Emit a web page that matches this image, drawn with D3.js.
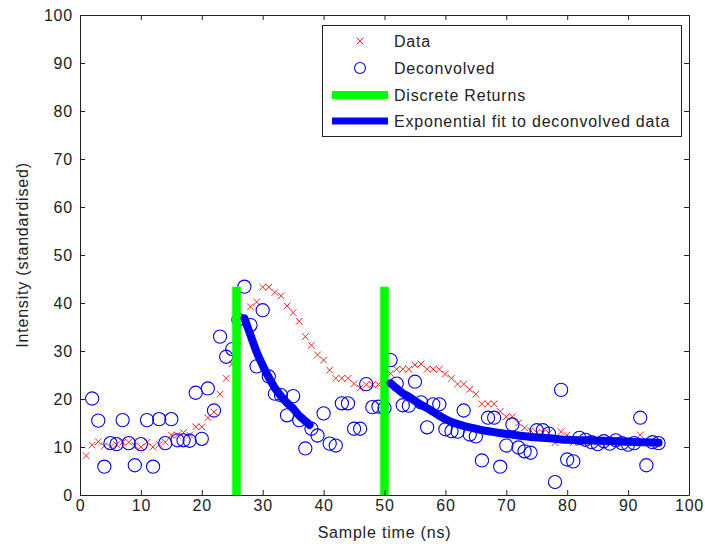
<!DOCTYPE html>
<html>
<head>
<meta charset="utf-8">
<script src="https://cdn.jsdelivr.net/npm/d3@7"></script>
<style>
  body { margin: 0; background: #fff; }
  text { font-family: Arial, "Liberation Sans", sans-serif; fill: #222; }
</style>
</head>
<body>
<div id="chart"></div>
<script>
// raw signal, [time ns, intensity]
const dataPts = [[1,8.2],[2,10.4],[3,11.1],[4,10.2],[5,10],[6,10.5],[7,11],[8,11],[9,10.3],[10,10],
  [11,11],[12,10],[13,10.5],[14,11],[15,12.5],[16,12.5],[17,13],[18,12.5],[19,14.2],[20,14.2],
  [21,16.1],[22,17.3],[23,21],[24,24.3],[25,27.3],[26,32],[27,36],[28,39.2],[29,40.2],[30,43.3],
  [31,43.3],[32,42.2],[33,41.5],[34,39.4],[35,38],[36,36.2],[37,33],[38,31.2],[39,29.2],[40,28.1],
  [41,26],[42,24.3],[43,24.3],[44,24.3],[45,23.2],[46,22.3],[47,23],[48,23],[49,23],[50,24],
  [51,25.3],[52,26.2],[53,26.2],[54,26.2],[55,27.1],[56,27.3],[57,26.2],[58,26.2],[59,26.2],[60,25.2],
  [61,24.3],[62,23.1],[63,23.1],[64,22],[65,21],[66,19],[67,19],[68,19],[69,17.4],[70,16.3],
  [71,16.3],[72,15],[73,14],[74,13.4],[75,13],[76,13],[77,12.9],[78,10.9],[79,13.2],[80,12.5],
  [81,10.9],[82,11],[83,11],[84,11.5],[85,11],[86,11],[87,11],[88,11],[89,11],[90,11],
  [91,11],[92,12.5],[93,11],[94,11],[95,11]];

// deconvolved signal
const deconvPts = [[2,20.1],[3,15.5],[4,5.9],[5,10.8],[6,10.6],[7,15.6],[8,10.8],[9,6.2],[10,10.6],
  [11,15.6],[12,5.9],[13,15.8],[14,10.8],[15,15.8],[16,11.4],[17,11.4],[18,11.3],[19,21.3],[20,11.7],
  [21,22.2],[22,17.6],[23,33],[24,28.8],[25,30.4],[26,36.5],[27,43.4],[28,35.4],[29,26.8],[30,38.5],
  [31,24.7],[32,21.1],[33,20.8],[34,16.6],[35,20.6],[36,15.6],[37,9.7],[38,13.8],[39,12.4],[40,17],
  [41,10.7],[42,10.3],[43,19.1],[44,19.1],[45,13.8],[46,13.8],[47,23.1],[48,18.3],[49,18.4],[50,18.1],
  [51,28.1],[52,23.2],[53,18.7],[54,18.6],[55,23.6],[56,19.3],[57,14.1],[58,18.9],[59,18.9],[60,13.7],
  [61,13.3],[62,13.2],[63,17.6],[64,12.6],[65,12.2],[66,7.2],[67,16.1],[68,16.1],[69,5.9],[70,10.3],
  [71,14.7],[72,9.9],[73,9.1],[74,8.8],[75,13.5],[76,13.5],[77,12.8],[78,2.7],[79,21.9],[80,7.4],
  [81,7],[82,11.9],[83,11.5],[84,11],[85,10.6],[86,11.2],[87,10.7],[88,11.4],[89,10.8],[90,10.5],
  [91,10.8],[92,16.1],[93,6.2],[94,11],[95,10.8]];

// discrete returns
const returnTimes = [25.7, 50];
const returnHeights = [43.4, 43.4];

// exponential fits
const fit1 = [[27,36.8],[28,33.3],[29,29.8],[30,27],[31,24.5],[32,22.3],[33,20.6],[34,19.2],
  [35,18],[36,16.5],[37,15.4],[37.7,14.6]];
const fit2 = [[51,23.3],[52,22.2],[53,21.2],[54,20.5],[55,19.6],[56,18.8],[57,18.1],[58,17.3],
  [59,16.5],[60,15.8],[61,15.2],[62,14.8],[63,14.4],[64,14.1],[65,13.8],[66,13.5],[68,13.1],
  [70,12.7],[72,12.4],[74,12.1],[76,11.9],[78,11.7],[80,11.5],[83,11.4],[86,11.3],[90,11.1],[95,10.9]];

const xTicks = [0,10,20,30,40,50,60,70,80,90,100];
const yTicks = [0,10,20,30,40,50,60,70,80,90,100];
const legendLabels = ["Data", "Deconvolved", "Discrete Returns", "Exponential fit to deconvolved data"];

const W = 705, H = 547;
const svg = d3.select("#chart").append("svg")
  .attr("width", W).attr("height", H);

const x = d3.scaleLinear().domain([0, 100]).range([80, 689]);
const y = d3.scaleLinear().domain([0, 100]).range([495, 15]);

svg.append("clipPath").attr("id", "clip")
  .append("rect").attr("x", 80).attr("y", 15).attr("width", 609).attr("height", 480);

const plot = svg.append("g").attr("clip-path", "url(#clip)");

// data: red crosses
const s = 3.3;
const cross = (cx, cy) => `M${cx-s},${cy-s}L${cx+s},${cy+s}M${cx-s},${cy+s}L${cx+s},${cy-s}`;
plot.append("g").selectAll("path")
  .data(dataPts).join("path")
    .attr("d", d => cross(x(d[0]), y(d[1])))
    .attr("stroke", "#ff2020")
    .attr("stroke-width", 1)
    .attr("fill", "none");

// deconvolved: blue circles
plot.append("g").selectAll("circle")
  .data(deconvPts).join("circle")
    .attr("cx", d => x(d[0]))
    .attr("cy", d => y(d[1]))
    .attr("r", 6.6)
    .attr("fill", "none")
    .attr("stroke", "#0000ff")
    .attr("stroke-width", 1.1);

// discrete returns
plot.append("g").selectAll("line")
  .data(returnTimes).join("line")
    .attr("x1", d => x(d)).attr("x2", d => x(d))
    .attr("y1", y(0)).attr("y2", (d, i) => y(returnHeights[i]))
    .attr("stroke", "#00ff00")
    .attr("stroke-width", 8.5);

// fits
const line = d3.line().x(d => x(d[0])).y(d => y(d[1])).curve(d3.curveMonotoneX);
[fit1, fit2].forEach(f => {
  plot.append("path")
    .attr("d", line(f))
    .attr("fill", "none")
    .attr("stroke", "#0000ff")
    .attr("stroke-width", 8)
    .attr("stroke-linecap", "round");
});

// axes, ticks pointing inward
const font = "16px";
const gx = svg.append("g").attr("transform", `translate(0,${y(0)})`)
  .call(d3.axisBottom(x).tickValues(xTicks).tickSize(-5).tickPadding(5).tickSizeOuter(0));
const gxt = svg.append("g").attr("transform", `translate(0,${y(100)})`)
  .call(d3.axisTop(x).tickValues(xTicks).tickSize(-5).tickFormat("").tickSizeOuter(0));
const gy = svg.append("g").attr("transform", `translate(${x(0)},0)`)
  .call(d3.axisLeft(y).tickValues(yTicks).tickSize(-5).tickPadding(7).tickSizeOuter(0));
const gyr = svg.append("g").attr("transform", `translate(${x(100)},0)`)
  .call(d3.axisRight(y).tickValues(yTicks).tickSize(-5).tickFormat("").tickSizeOuter(0));

[gx, gxt, gy, gyr].forEach(g => {
  g.select(".domain").attr("stroke", "#222");
  g.selectAll(".tick line").attr("stroke", "#222");
  g.selectAll("text")
    .style("font-family", "Arial, 'Liberation Sans', sans-serif")
    .style("font-size", font)
    .style("letter-spacing", "0.8px")
    .attr("fill", "#222");
});

// axis labels
svg.append("text")
  .attr("x", (x(0) + x(100)) / 2)
  .attr("y", 538)
  .attr("text-anchor", "middle")
  .style("font-size", font).style("letter-spacing", "0.8px")
  .text("Sample time (ns)");

svg.append("text")
  .attr("transform", `translate(28,${(y(0) + y(100)) / 2}) rotate(-90)`)
  .attr("text-anchor", "middle")
  .style("font-size", font).style("letter-spacing", "0.8px")
  .text("Intensity (standardised)");

// legend
const lg = svg.append("g");
lg.append("rect")
  .attr("x", 322.5).attr("y", 25.5).attr("width", 359).attr("height", 111)
  .attr("fill", "#fff").attr("stroke", "#222").attr("stroke-width", 1);

const rowY = [41, 68, 95, 121];
lg.selectAll("text.lab")
  .data(legendLabels).join("text")
    .attr("class", "lab")
    .attr("x", 394)
    .attr("y", (d, i) => rowY[i])
    .attr("dy", "0.36em")
    .style("font-size", font).style("letter-spacing", "0.8px")
    .text(d => d);

const mx = 360;
lg.append("path")
  .attr("d", cross(mx, rowY[0]))
  .attr("stroke", "#ff2020").attr("fill", "none");
lg.append("circle")
  .attr("cx", mx).attr("cy", rowY[1]).attr("r", 5.5)
  .attr("fill", "none").attr("stroke", "#0000ff").attr("stroke-width", 1.1);
lg.append("line")
  .attr("x1", 332).attr("x2", 388).attr("y1", rowY[2]).attr("y2", rowY[2])
  .attr("stroke", "#00ff00").attr("stroke-width", 8);
lg.append("line")
  .attr("x1", 332).attr("x2", 388).attr("y1", rowY[3]).attr("y2", rowY[3])
  .attr("stroke", "#0000ff").attr("stroke-width", 7);
</script>
</body>
</html>
